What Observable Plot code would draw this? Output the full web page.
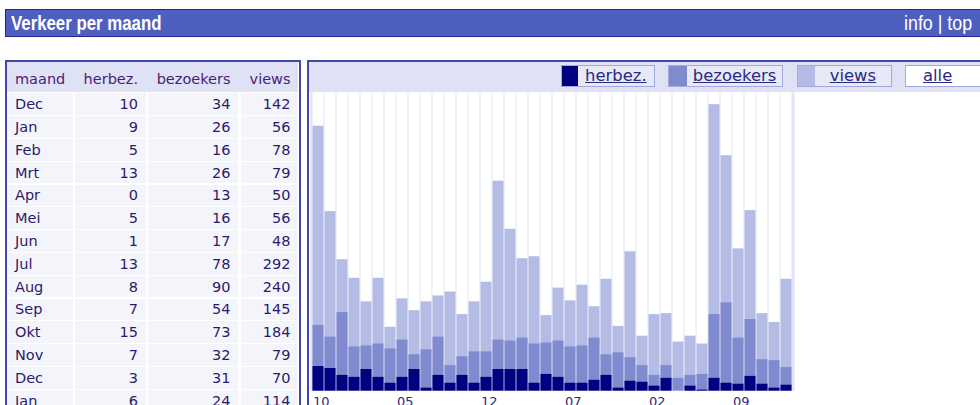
<!DOCTYPE html>
<html>
<head>
<meta charset="utf-8">
<script src="https://cdn.jsdelivr.net/npm/d3@7"></script>
<script src="https://cdn.jsdelivr.net/npm/@observablehq/plot@0.6"></script>
<style>
html,body{margin:0;padding:0;width:980px;height:405px;overflow:hidden;background:#fff;}
.a{position:absolute;box-sizing:border-box;}
#hdr{left:5px;top:9px;width:1000px;height:28px;background:#4f5fbf;border:1.5px solid #25258c;border-right:none;}
.ht{position:absolute;top:0;height:25px;line-height:25px;color:#fff;font-family:"Liberation Sans",Arial,sans-serif;font-size:20.5px;white-space:nowrap;transform-origin:0 50%;}
#tpanel{left:5px;top:60px;width:296px;height:360px;border:2px solid #4646a6;border-bottom:none;}
#cpanel{left:307px;top:60px;width:700px;height:360px;border-top:2px solid #4646a6;border-left:2px solid #4646a6;}
#band{left:309px;top:62px;width:700px;height:29.7px;background:#dfe2f4;}
#thead{left:7px;top:62px;width:291.3px;height:30px;background:#dfe2f4;}
.cell{position:absolute;box-sizing:border-box;background:#f4f5fb;}
.txt{position:absolute;font-family:"DejaVu Sans",Verdana,sans-serif;font-size:14.5px;line-height:21.7px;height:21.7px;white-space:nowrap;color:#2b1a6b;}
.hd{color:#4a1c78;}
.btn{position:absolute;box-sizing:border-box;top:65px;height:21.7px;border:1px solid #a3a9dd;background:#e7e9f7;display:flex;}
.sw{height:100%;flex:none;}
.bt{flex:1;text-align:center;font-family:"DejaVu Sans",Verdana,sans-serif;font-size:16.4px;line-height:19.7px;color:#2a2a80;text-decoration:underline;white-space:nowrap;}
#chart{position:absolute;left:309px;top:92px;}
</style>
</head>
<body>
<div id="hdr" class="a">
  <span class="ht" style="left:5.2px;font-weight:bold;transform:scaleX(0.82);">Verkeer per maand</span>
  <span class="ht" style="left:897.5px;transform:scaleX(0.87);">info | top</span>
</div>
<div id="tpanel" class="a"></div>
<div id="cpanel" class="a"></div>
<div id="band" class="a"></div>
<div id="thead" class="a"></div>
<div id="table"></div>
<div id="legend"></div>
<div id="chart"></div>
<script>
// ---- data ----
const months = ["10","11","12","01","02","03","04","05","06","07","08","09",
                "10","11","12","01","02","03","04","05","06","07","08","09",
                "10","11","12","01","02","03","04","05","06","07","08","09",
                "10","11","12","01"];
const herbez    = [25,23,16,14,22,14,8,14,22,3,16,8,16,8,14,22,22,22,8,17,14,8,8,11,16,3,
                   10,9,5,13,0,5,1,13,8,7,15,7,3,6];
const bezoekers = [67,55,80,45,46,48,43,52,37,42,55,26,35,40,40,52,51,54,48,49,51,45,46,54,37,39,
                   34,26,16,26,13,16,17,78,90,54,73,32,31,24];
const views     = [270,183,134,115,91,115,65,94,82,91,97,101,78,91,111,214,165,135,137,77,105,92,108,86,114,66,
                   142,56,78,79,50,56,48,292,240,145,184,79,70,114];
const tableMonths = ["Dec","Jan","Feb","Mrt","Apr","Mei","Jun","Jul","Aug","Sep","Okt","Nov","Dec","Jan"];
const headers = ["maand","herbez.","bezoekers","views"];
const seriesNames = ["herbez.","bezoekers","views","alle"];
const colors = {herbez:"#000080", bezoekers:"#808ace", views:"#b4bce6"};
const yTop = 304.4;

// ---- table ----
const tbl = document.getElementById("table");
const cols = [[7,73],[75,146],[148,238],[241,298]];
const pads = [8,8,7.5,7.5];
function addText(txt, ci, top, cls){
  const d = document.createElement("div");
  d.className = "txt " + (cls||"");
  d.textContent = txt;
  d.style.top = top + "px";
  if (ci === 0) { d.style.left = (cols[0][0] + pads[0]) + "px"; }
  else { d.style.right = (980 - cols[ci][1] + pads[ci]) + "px"; d.style.textAlign = "right"; }
  tbl.appendChild(d);
}
headers.forEach((h,ci)=>addText(h, ci, 69.1, "hd"));
const offset = views.length - tableMonths.length;
tableMonths.forEach((m,r)=>{
  const top = 93.3 + r*22.8;
  cols.forEach((c,ci)=>{
    const cell = document.createElement("div");
    cell.className = "cell";
    cell.style.left = c[0]+"px"; cell.style.width = (c[1]-c[0])+"px";
    cell.style.top = top+"px"; cell.style.height = "21.7px";
    tbl.appendChild(cell);
  });
  const i = offset + r;
  const vals = [m, herbez[i], bezoekers[i], views[i]];
  vals.forEach((v,ci)=>addText(String(v), ci, top+0.9));
});

// ---- legend buttons ----
const lg = document.getElementById("legend");
const btnGeom = [[560.7,94.3,16,colors.herbez],[668.3,115,17.5,colors.bezoekers],[796.7,95,17.3,colors.views],[905,100,0,null]];
seriesNames.forEach((name,k)=>{
  const [left,w,sw,col] = btnGeom[k];
  const b = document.createElement("div");
  b.className = "btn";
  b.style.left = left+"px"; b.style.width = w+"px";
  if (!col) b.style.background = "#fff";
  if (col){ const s = document.createElement("div"); s.className="sw"; s.style.width=sw+"px"; s.style.background=col; b.appendChild(s); }
  const t = document.createElement("div"); t.className="bt"; t.textContent = name;
  if (!col){ t.style.textAlign="left"; t.style.paddingLeft="17px"; }
  b.appendChild(t);
  lg.appendChild(b);
});

// ---- chart ----
const data = months.map((m,i)=>({key:i, month:m, herbez:herbez[i], bezoekers:bezoekers[i], views:views[i]}));
const tickKeys = data.filter((d,i)=>i%7===0).map(d=>d.key);
const chart = Plot.plot({
  width: 671, height: 313,
  marginLeft: 0.5, marginRight: 185.8, marginTop: 0, marginBottom: 14.4,
  x: {type:"band", domain: data.map(d=>d.key), padding: 0},
  y: {domain:[0, yTop], axis: null},
  style: {fontFamily:"DejaVu Sans, Verdana, sans-serif", fontSize:"13px", background:"transparent", overflow:"visible"},
  marks: [
    Plot.frame({fill:"#e3e6f6", stroke:null}),
    Plot.barY(data, {x:"key", y:()=>yTop, fill:"#ffffff", insetLeft:0.5, insetRight:0.5}),
    Plot.barY(data, {x:"key", y:"views", fill:colors.views, insetLeft:0.5, insetRight:0.5}),
    Plot.barY(data, {x:"key", y:"bezoekers", fill:colors.bezoekers, insetLeft:0.5, insetRight:0.5}),
    Plot.barY(data, {x:"key", y:"herbez", fill:colors.herbez, insetLeft:0.5, insetRight:0.5}),
    Plot.axisX({ticks: tickKeys, tickSize: 0, tickPadding: 5.4, textAnchor:"start", dx:-5.6,
                tickFormat: i => months[i], fill:"#2e2680", label:null})
  ]
});
document.getElementById("chart").appendChild(chart);
</script>
</body>
</html>
